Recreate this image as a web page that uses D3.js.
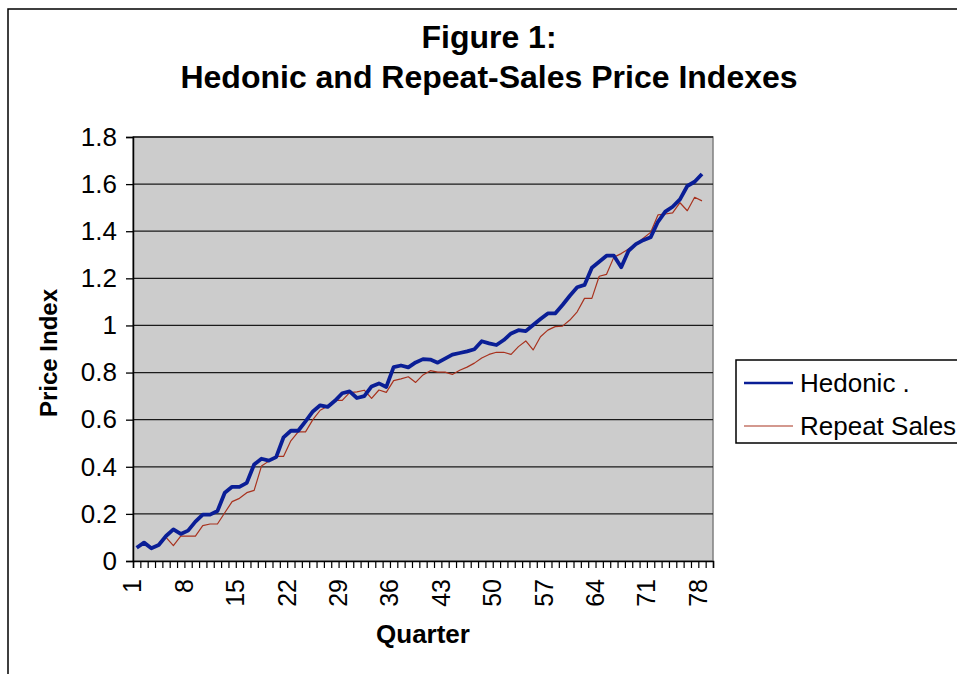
<!DOCTYPE html>
<html>
<head>
<meta charset="utf-8">
<script src="https://cdn.jsdelivr.net/npm/d3@7"></script>
<style>
  body { margin: 0; background: #fff; }
  svg { display: block; }
  text { font-family: "Liberation Sans", Arial, sans-serif; fill: #000; }
</style>
</head>
<body>
<svg id="chart"></svg>
<script>
// categories (quarters) and the labels shown on the axis
const quarters = d3.range(1, 80);
const quarterLabels = [1, 8, 15, 22, 29, 36, 43, 50, 57, 64, 71, 78];
const yTickValues = [0, 0.2, 0.4, 0.6, 0.8, 1, 1.2, 1.4, 1.6, 1.8];

// series values (quarters 1..78)
const hedonic = [0.056, 0.078, 0.054, 0.068, 0.106, 0.134, 0.115, 0.129, 0.167, 0.197,
  0.197, 0.212, 0.29, 0.315, 0.315, 0.332, 0.41, 0.434, 0.426, 0.441,
  0.525, 0.553, 0.553, 0.593, 0.635, 0.661, 0.654, 0.68, 0.712, 0.72,
  0.692, 0.70, 0.741, 0.754, 0.739, 0.823, 0.83, 0.822, 0.843, 0.857,
  0.855, 0.842, 0.859, 0.876, 0.883, 0.89, 0.899, 0.933, 0.924, 0.917,
  0.938, 0.966, 0.98, 0.976, 1.002, 1.027, 1.051, 1.051, 1.087, 1.126,
  1.162, 1.172, 1.245, 1.27, 1.296, 1.296, 1.247, 1.317, 1.345, 1.362,
  1.374, 1.44, 1.483, 1.504, 1.535, 1.592, 1.61, 1.643];

// repeat sales starts in quarter 5
const repeatSales = [null, null, null, null,
  0.10, 0.065, 0.106, 0.106, 0.106, 0.15, 0.157, 0.157, 0.205, 0.252,
  0.266, 0.29, 0.30, 0.403, 0.424, 0.444, 0.444, 0.51, 0.548, 0.548,
  0.60, 0.64, 0.657, 0.682, 0.682, 0.715, 0.718, 0.725, 0.69, 0.726,
  0.716, 0.766, 0.773, 0.782, 0.758, 0.79, 0.808, 0.802, 0.802,
  0.792, 0.81, 0.823, 0.84, 0.862, 0.877, 0.886, 0.886, 0.877, 0.91,
  0.934, 0.896, 0.952, 0.98, 0.995, 0.997, 1.023, 1.058, 1.115, 1.115,
  1.209, 1.217, 1.29, 1.305, 1.325, 1.345, 1.37, 1.395, 1.469, 1.473,
  1.478, 1.521, 1.487, 1.544, 1.529];

const width = 957;
const height = 674;
const plot = { left: 133, right: 713, top: 137, bottom: 561 };

const svg = d3.select("#chart")
    .attr("width", width)
    .attr("height", height);

svg.append("rect")
    .attr("width", width)
    .attr("height", height)
    .attr("fill", "#fff");

// outer chart frame (runs off the right and bottom of the picture)
svg.append("rect")
    .attr("x", 8)
    .attr("y", 9)
    .attr("width", 1000)
    .attr("height", 700)
    .attr("fill", "none")
    .attr("stroke", "#000")
    .attr("stroke-width", 1.5);

const x = d3.scaleLinear()
    .domain([0.5, quarters.length + 0.5])
    .range([plot.left, plot.right]);

const y = d3.scaleLinear()
    .domain([0, 1.8])
    .range([plot.bottom, plot.top]);

// grey plot area
svg.append("rect")
    .attr("x", plot.left)
    .attr("y", plot.top)
    .attr("width", plot.right - plot.left)
    .attr("height", plot.bottom - plot.top)
    .attr("fill", "#cccccc")
    .attr("stroke", "#808080")
    .attr("stroke-width", 1.5);

// horizontal gridlines
svg.append("g")
    .selectAll("line")
    .data(yTickValues.filter(d => d > 0))
    .join("line")
    .attr("x1", plot.left)
    .attr("x2", plot.right)
    .attr("y1", d => y(d))
    .attr("y2", d => y(d))
    .attr("stroke", "#1a1a1a")
    .attr("stroke-width", 1.3);

// y axis
const yAxis = svg.append("g")
    .attr("transform", `translate(${plot.left},0)`)
    .call(d3.axisLeft(y).tickValues(yTickValues).tickSize(7).tickPadding(9).tickFormat(d => String(d)));
yAxis.select(".domain").attr("stroke", "#000").attr("stroke-width", 1.5);
yAxis.selectAll(".tick line").attr("stroke", "#000").attr("stroke-width", 1.3);
yAxis.selectAll(".tick text")
    .style("font-size", "26px")
    .attr("font-family", null);

// x axis: tick marks between categories, labels every 7th quarter
const boundaries = d3.range(0, quarters.length + 1).map(i => i + 0.5);
const xAxis = svg.append("g")
    .attr("transform", `translate(0,${plot.bottom})`)
    .call(d3.axisBottom(x).tickValues(boundaries).tickSize(7).tickFormat(""));
xAxis.select(".domain").attr("stroke", "#000").attr("stroke-width", 1.5);
xAxis.selectAll(".tick line").attr("stroke", "#000").attr("stroke-width", 1.2);

svg.append("g")
    .selectAll("text")
    .data(quarterLabels)
    .join("text")
    .attr("transform", d => `translate(${x(d) - 4},${plot.bottom + 18}) rotate(-90)`)
    .attr("text-anchor", "end")
    .attr("dy", "0.35em")
    .style("font-size", "25px")
    .text(d => d);

// series lines
const line = d3.line()
    .defined(d => d.value != null)
    .x(d => x(d.quarter))
    .y(d => y(d.value));

const repeatData = repeatSales.map((v, i) => ({ quarter: quarters[i], value: v }));
const hedonicData = hedonic.map((v, i) => ({ quarter: quarters[i], value: v }));

svg.append("path")
    .datum(repeatData)
    .attr("d", line)
    .attr("fill", "none")
    .attr("stroke", "#a8321e")
    .attr("stroke-width", 1.2)
    .attr("stroke-linejoin", "round");

svg.append("path")
    .datum(hedonicData)
    .attr("d", line)
    .attr("fill", "none")
    .attr("stroke", "#0a1e96")
    .attr("stroke-width", 3.8)
    .attr("stroke-linejoin", "round");

// titles
const centerX = (plot.left + plot.right) / 2;
svg.append("text")
    .attr("x", 489)
    .attr("y", 48)
    .attr("text-anchor", "middle")
    .style("font-size", "32px")
    .style("font-weight", "bold")
    .text("Figure 1:");

svg.append("text")
    .attr("x", 489)
    .attr("y", 88)
    .attr("text-anchor", "middle")
    .style("font-size", "32px")
    .style("font-weight", "bold")
    .text("Hedonic and Repeat-Sales Price Indexes");

svg.append("text")
    .attr("transform", `translate(57,${(plot.top + plot.bottom) / 2 + 4}) rotate(-90)`)
    .attr("text-anchor", "middle")
    .style("font-size", "24px")
    .style("font-weight", "bold")
    .text("Price Index");

svg.append("text")
    .attr("x", centerX)
    .attr("y", 643)
    .attr("text-anchor", "middle")
    .style("font-size", "26px")
    .style("font-weight", "bold")
    .text("Quarter");

// legend
const legend = svg.append("g");
legend.append("rect")
    .attr("x", 736)
    .attr("y", 360)
    .attr("width", 300)
    .attr("height", 83)
    .attr("fill", "#fff")
    .attr("stroke", "#000")
    .attr("stroke-width", 1.5);

const legendItems = [
    { name: "Hedonic .", color: "#0a1e96", w: 2.5, y: 383 },
    { name: "Repeat Sales", color: "#a8321e", w: 1.2, y: 426 }
];

legend.selectAll("line")
    .data(legendItems)
    .join("line")
    .attr("x1", 744)
    .attr("x2", 793)
    .attr("y1", d => d.y)
    .attr("y2", d => d.y)
    .attr("stroke", d => d.color)
    .attr("stroke-width", d => d.w);

legend.selectAll("text")
    .data(legendItems)
    .join("text")
    .attr("x", 800)
    .attr("y", d => d.y + 9)
    .style("font-size", "26px")
    .text(d => d.name);
</script>
</body>
</html>
